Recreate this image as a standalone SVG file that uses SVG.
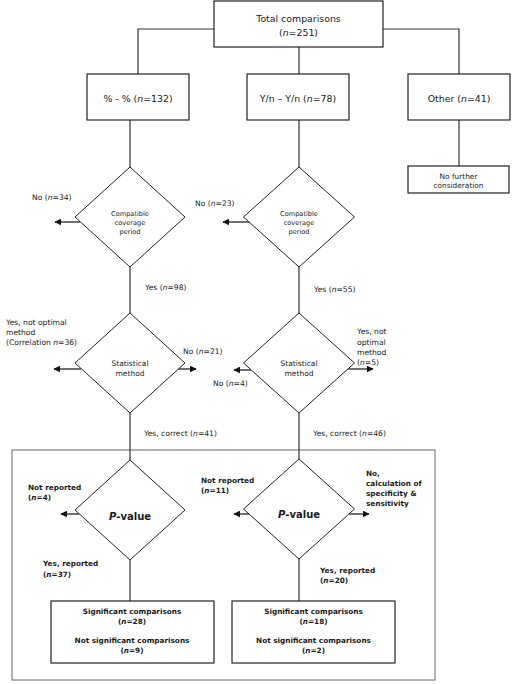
<svg xmlns="http://www.w3.org/2000/svg" width="512" height="684" viewBox="0 0 512 684">
<defs>
<marker id="arr" viewBox="0 0 10 10" refX="9" refY="5" markerWidth="7" markerHeight="7" markerUnits="userSpaceOnUse" orient="auto">
<path d="M0,0 L10,5 L0,10 z" fill="#111"/>
</marker>
<style>
text{font-family:"DejaVu Sans","Verdana",sans-serif;fill:#1a1a1a}
.box{fill:#fff;stroke:#222;stroke-width:1.2}
.dia{fill:#fff;stroke:#222;stroke-width:1}
.ln{fill:none;stroke:#333;stroke-width:1.2}
.ar{fill:none;stroke:#111;stroke-width:1.2;marker-end:url(#arr)}
.big{font-size:9.4px}
.sm{font-size:6.6px}
.lbl{font-size:7.6px}
.bl{font-size:7.3px;font-weight:bold}
.pv{font-size:10px;font-weight:bold}
.c{text-anchor:middle}
.i{font-style:italic}
</style>
</defs>
<rect x="12" y="450" width="423" height="230" fill="none" stroke="#666" stroke-width="1"/>
<g id="connectors">
<path class="ln" d="M138,74 V29 H214 M383,29 H459 V74 M299,47 V74"/>
<path class="ln" d="M130,120 V167 M130,267 V313 M130,413 V460 M130,560 V601"/>
<path class="ln" d="M299,120 V167 M299,267 V313 M299,413 V459 M299,559 V601"/>
<path class="ln" d="M459,120 V166"/>
<line class="ar" x1="80" y1="222" x2="55" y2="222"/>
<line class="ar" x1="249" y1="222" x2="223" y2="222"/>
<line class="ar" x1="81" y1="369" x2="54" y2="369"/>
<line class="ar" x1="178" y1="369" x2="196" y2="369"/>
<line class="ar" x1="251" y1="370" x2="234" y2="370"/>
<line class="ar" x1="348" y1="369" x2="373" y2="369"/>
<line class="ar" x1="79" y1="514" x2="61" y2="514"/>
<line class="ar" x1="249" y1="514" x2="234" y2="514"/>
<line class="ar" x1="349" y1="514" x2="369" y2="514"/>
</g>
<g id="total">
<rect class="box" x="214" y="1" width="169" height="46"/>
<text class="big c" x="298.5" y="22.3">Total comparisons</text>
<text class="big c" x="298.5" y="36.3">(<tspan class="i">n</tspan>=251)</text>
</g>
<g id="pct">
<rect class="box" x="87" y="74" width="102" height="46"/>
<text class="big c" x="138" y="102">% - % (<tspan class="i">n</tspan>=132)</text>
</g>
<g id="yn">
<rect class="box" x="247" y="74" width="102" height="46"/>
<text class="big c" x="298" y="102">Y/n – Y/n (<tspan class="i">n</tspan>=78)</text>
</g>
<g id="other">
<rect class="box" x="408" y="74" width="102" height="46"/>
<text class="big c" x="459" y="102">Other (<tspan class="i">n</tspan>=41)</text>
</g>
<g id="nofurther">
<rect class="box" x="408" y="166" width="101" height="27"/>
<text class="lbl c" x="458.5" y="178.5" style="font-size:7.4px">No further</text>
<text class="lbl c" x="458.5" y="188" style="font-size:7.4px">consideration</text>
</g>
<g id="cov1">
<polygon class="dia" points="130,167 185,217 130,267 75,217"/>
<text class="sm c" x="130" y="215.5">Compatible</text>
<text class="sm c" x="130" y="224.5">coverage</text>
<text class="sm c" x="130" y="233.5">period</text>
</g>
<g id="cov2">
<polygon class="dia" points="299,167 354.5,217 299,267 243.5,217"/>
<text class="sm c" x="299" y="215.5">Compatible</text>
<text class="sm c" x="299" y="224.5">coverage</text>
<text class="sm c" x="299" y="233.5">period</text>
</g>
<g id="stat1">
<polygon class="dia" points="130,313 185,363 130,413 75,363"/>
<text class="c" x="130" y="365.6" style="font-size:7.5px">Statistical</text>
<text class="c" x="130" y="375.6" style="font-size:7.5px">method</text>
</g>
<g id="stat2">
<polygon class="dia" points="299,313 354.5,363 299,413 243.5,363"/>
<text class="c" x="299" y="365.6" style="font-size:7.5px">Statistical</text>
<text class="c" x="299" y="375.6" style="font-size:7.5px">method</text>
</g>
<g id="pval1">
<polygon class="dia" points="130,460 185,510 130,560 75,510"/>
<text class="pv c" x="130" y="519.5"><tspan class="i">P</tspan>-value</text>
</g>
<g id="pval2">
<polygon class="dia" points="299,459 354.5,509 299,559 243.5,509"/>
<text class="pv c" x="299" y="517.5"><tspan class="i">P</tspan>-value</text>
</g>
<g id="res1">
<rect class="box" x="51" y="601" width="163" height="62"/>
<text class="bl c" x="132" y="613.6">Significant comparisons</text>
<text class="bl c" x="132" y="623.6">(<tspan class="i">n</tspan>=28)</text>
<text class="bl c" x="132" y="642.6">Not significant comparisons</text>
<text class="bl c" x="132" y="652.6">(<tspan class="i">n</tspan>=9)</text>
</g>
<g id="res2">
<rect class="box" x="232" y="601" width="163" height="62"/>
<text class="bl c" x="313.5" y="613.6">Significant comparisons</text>
<text class="bl c" x="313.5" y="623.6">(<tspan class="i">n</tspan>=18)</text>
<text class="bl c" x="313.5" y="642.6">Not significant comparisons</text>
<text class="bl c" x="313.5" y="652.6">(<tspan class="i">n</tspan>=2)</text>
</g>
<g id="labels">
<text class="lbl" x="32" y="200">No (<tspan class="i">n</tspan>=34)</text>
<text class="lbl" x="195" y="206">No (<tspan class="i">n</tspan>=23)</text>
<text class="lbl" x="145" y="290">Yes (<tspan class="i">n</tspan>=98)</text>
<text class="lbl" x="314" y="292">Yes (<tspan class="i">n</tspan>=55)</text>
<text class="lbl" x="6" y="325">Yes, not optimal</text>
<text class="lbl" x="6" y="335">method</text>
<text class="lbl" x="6" y="345">(Correlation <tspan class="i">n</tspan>=36)</text>
<text class="lbl" x="183" y="354">No (<tspan class="i">n</tspan>=21)</text>
<text class="lbl" x="213" y="386">No (<tspan class="i">n</tspan>=4)</text>
<text class="lbl" x="357" y="334">Yes, not</text>
<text class="lbl" x="357" y="344.5">optimal</text>
<text class="lbl" x="357" y="355">method</text>
<text class="lbl" x="357" y="365">(<tspan class="i">n</tspan>=5)</text>
<text class="lbl" x="144" y="436">Yes, correct (<tspan class="i">n</tspan>=41)</text>
<text class="lbl" x="313" y="436">Yes, correct (<tspan class="i">n</tspan>=46)</text>
<text class="bl" x="28" y="490">Not reported</text>
<text class="bl" x="28" y="500">(<tspan class="i">n</tspan>=4)</text>
<text class="bl" x="201" y="483">Not reported</text>
<text class="bl" x="201" y="493">(<tspan class="i">n</tspan>=11)</text>
<text class="bl" x="366" y="476">No,</text>
<text class="bl" x="366" y="486">calculation of</text>
<text class="bl" x="366" y="496">specificity &amp;</text>
<text class="bl" x="366" y="506">sensitivity</text>
<text class="bl" x="43" y="566">Yes, reported</text>
<text class="bl" x="43" y="577">(<tspan class="i">n</tspan>=37)</text>
<text class="bl" x="320" y="573">Yes, reported</text>
<text class="bl" x="320" y="583">(<tspan class="i">n</tspan>=20)</text>
</g>
</svg>
